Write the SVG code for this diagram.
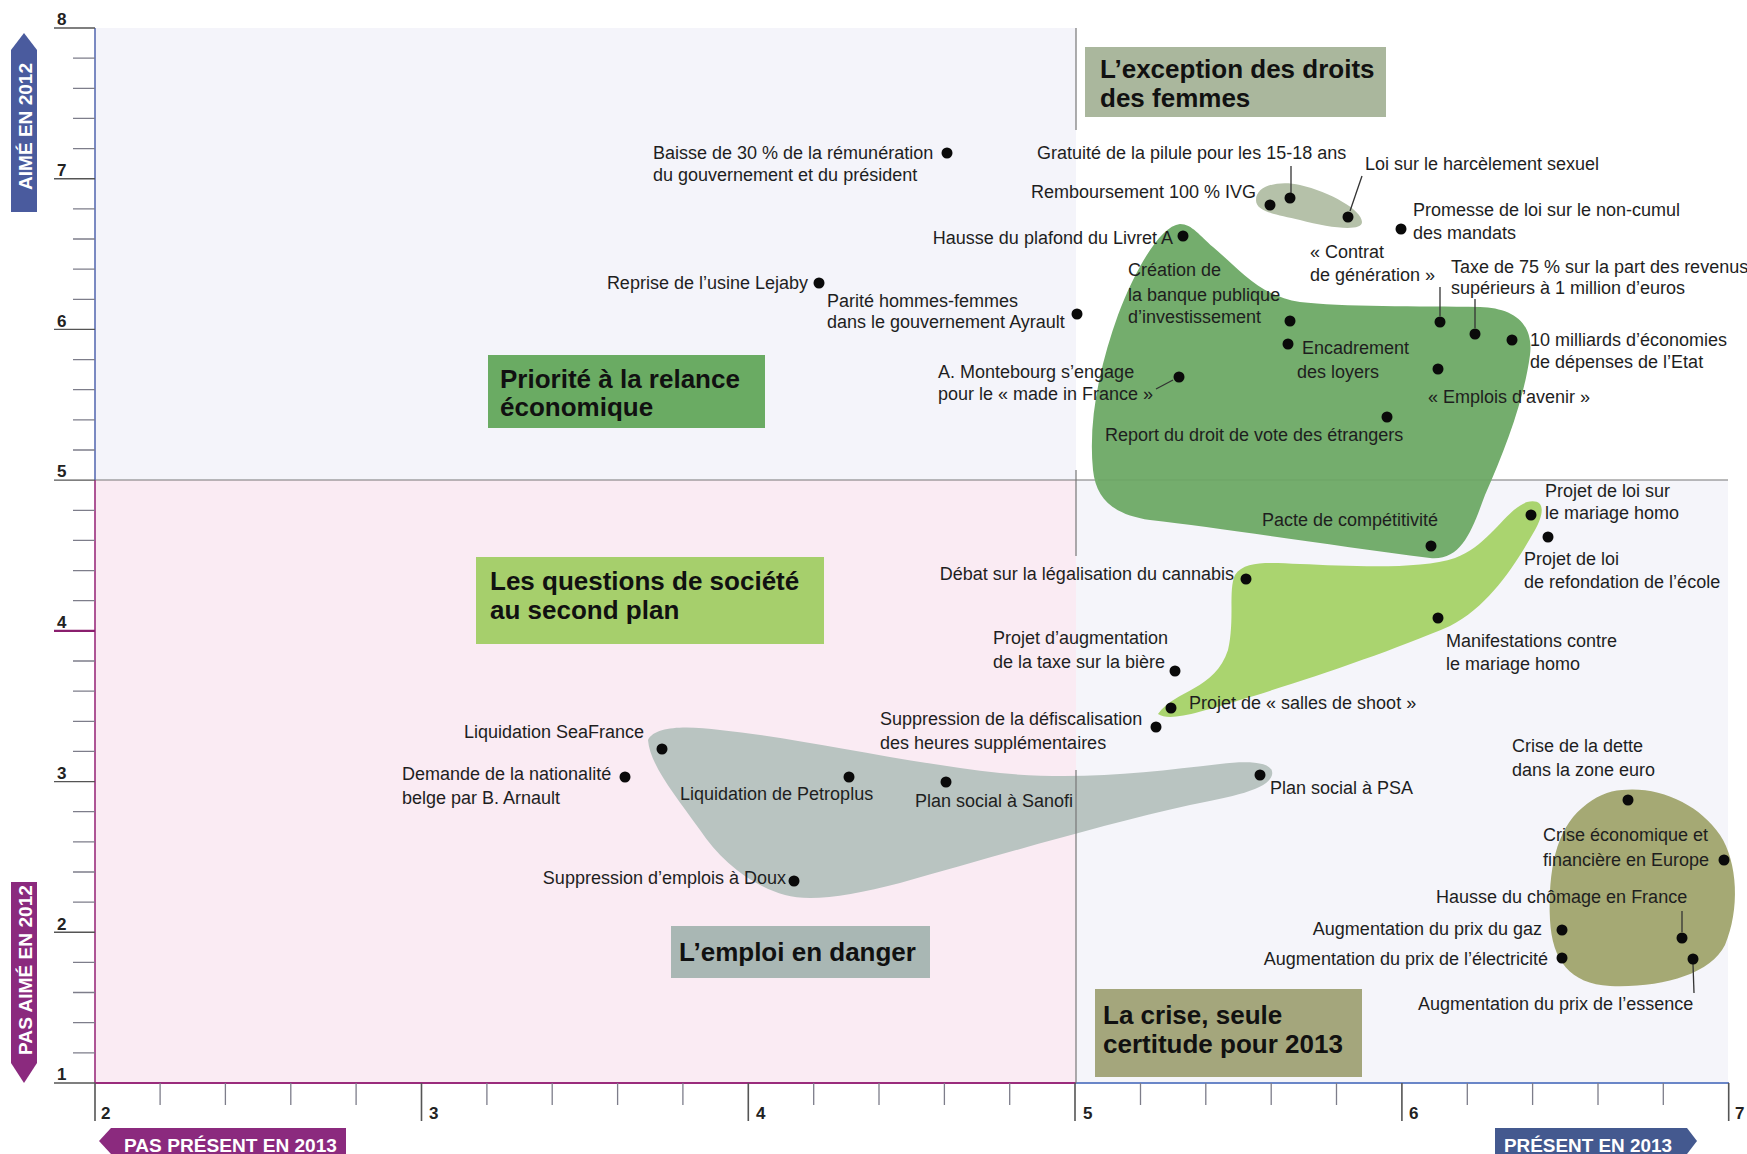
<svg xmlns="http://www.w3.org/2000/svg" width="1747" height="1154" viewBox="0 0 1747 1154">
<defs>
<style>
.lb{font-family:"Liberation Sans",Arial,sans-serif;font-size:18px;fill:#1e1e1e}
.e{text-anchor:end}
.tt{font-family:"Liberation Sans",Arial,sans-serif;font-size:26px;font-weight:bold;fill:#111}
.ax{font-family:"Liberation Sans",Arial,sans-serif;font-size:17px;font-weight:bold;fill:#222}
.bn{font-family:"Liberation Sans",Arial,sans-serif;font-size:19px;font-weight:bold;fill:#fff}
.dot{fill:#0a0a0a}
.ld{stroke:#333;stroke-width:1.3;fill:none}
</style>
</defs>
<rect width="1747" height="1154" fill="#ffffff"/>
<g id="background">
<rect x="95" y="28" width="981" height="452" fill="#f4f4fa"/>
<rect x="95" y="480" width="981" height="603" fill="#faebf3"/>
<rect x="1076" y="480" width="652" height="603" fill="#f5f5fa"/>
<line x1="95" y1="480" x2="1728" y2="480" stroke="#777" stroke-width="1.2"/>
<path d="M1076 28V130M1076 470V556" stroke="#777" stroke-width="1.2"/>
</g>
<g id="axes">
<line x1="95" y1="28" x2="95" y2="480" stroke="#5a6db3" stroke-width="1.6"/>
<line x1="95" y1="480" x2="95" y2="1083" stroke="#9a2c7c" stroke-width="1.6"/>
<line x1="95" y1="1083" x2="1076" y2="1083" stroke="#9a2c7c" stroke-width="2"/>
<line x1="1076" y1="1083" x2="1729" y2="1083" stroke="#6a86c8" stroke-width="2"/>
<path stroke="#7d7d8a" stroke-width="1.3" d="M73 58.1H95M73 88.3H95M73 118.4H95M73 148.6H95M73 208.9H95M73 239H95M73 269.1H95M73 299.3H95M73 359.6H95M73 389.7H95M73 419.8H95M73 450H95M73 510.3H95M73 540.4H95M73 570.6H95M73 600.7H95M73 661H95M73 691.1H95M73 721.3H95M73 751.4H95M73 811.7H95M73 841.8H95M73 872H95M73 902.1H95M73 962.4H95M73 992.5H95M73 1022.7H95M73 1052.8H95"/>
<path stroke="#555" stroke-width="1.4" d="M54 28H95M54 178.7H95M54 329.4H95M54 480.1H95M54 781.6H95M54 932.3H95M54 1083H95"/>
<path stroke="#8a1f6e" stroke-width="2.2" d="M54 630.8H95"/>
<path stroke="#7d7d8a" stroke-width="1.3" d="M160.1 1083V1105M225.4 1083V1105M290.8 1083V1105M356.1 1083V1105M486.9 1083V1105M552.2 1083V1105M617.6 1083V1105M682.9 1083V1105M813.7 1083V1105M879 1083V1105M944.4 1083V1105M1009.7 1083V1105M1140.5 1083V1105M1205.8 1083V1105M1271.2 1083V1105M1336.5 1083V1105M1467.3 1083V1105M1532.6 1083V1105M1598 1083V1105M1663.3 1083V1105"/>
<path stroke="#555" stroke-width="1.6" d="M95 1083V1121M421.5 1083V1121M748.3 1083V1121M1075 1083V1121M1401.9 1083V1121M1728.7 1083V1121"/>
<text class="ax" x="57" y="25">8</text>
<text class="ax" x="57" y="176">7</text>
<text class="ax" x="57" y="327">6</text>
<text class="ax" x="57" y="477">5</text>
<text class="ax" x="57" y="628">4</text>
<text class="ax" x="57" y="779">3</text>
<text class="ax" x="57" y="930">2</text>
<text class="ax" x="57" y="1080">1</text>
<text class="ax" x="101" y="1119">2</text>
<text class="ax" x="429" y="1119">3</text>
<text class="ax" x="756" y="1119">4</text>
<text class="ax" x="1083" y="1119">5</text>
<text class="ax" x="1409" y="1119">6</text>
<text class="ax" x="1735" y="1119">7</text>
</g>
<g id="banners">
<path d="M11 50L24 33L37 50V212H11Z" fill="#4a5b9e"/>
<text class="bn" transform="translate(31.5 190) rotate(-90)" textLength="127" lengthAdjust="spacingAndGlyphs">AIMÉ EN 2012</text>
<path d="M11 882H37V1063L24 1083L11 1063Z" fill="#8b2a7e"/>
<text class="bn" transform="translate(31.5 1055) rotate(-90)" textLength="170" lengthAdjust="spacingAndGlyphs">PAS AIMÉ EN 2012</text>
<path d="M99 1141L111 1128H346V1154H111Z" fill="#8b2a7e"/>
<text class="bn" x="124" y="1152" textLength="213" lengthAdjust="spacingAndGlyphs">PAS PRÉSENT EN 2013</text>
<path d="M1495 1128H1687L1697 1141L1687 1154H1495Z" fill="#44598f"/>
<text class="bn" x="1504" y="1152" textLength="168" lengthAdjust="spacingAndGlyphs">PRÉSENT EN 2013</text>
</g>
<g id="blobs">
<path id="blob-relance" fill="#74ad6d" d="M1180,224 C1160,226 1135,270 1118,315 C1100,365 1088,420 1093,470 C1096,500 1115,515 1150,520 C1220,528 1330,545 1430,558 C1462,561 1472,530 1485,495 C1505,450 1524,400 1530,355 C1534,322 1512,308 1480,307 C1420,306 1340,307 1300,302 C1260,296 1240,270 1213,247 C1200,236 1192,224 1180,224 Z"/>
<path d="M1098 480H1490" stroke="#6a9f64" stroke-width="1" opacity="0.6"/>
<path id="blob-femmes" fill="#b5c1a9" d="M1256,200 C1256,185 1280,180 1300,185 C1330,192 1362,210 1362,222 C1362,232 1330,228 1300,220 C1275,214 1256,212 1256,200 Z"/>
<path id="blob-societe" fill="#aad46f" d="M1158,714 C1175,690 1215,690 1228,650 C1235,620 1228,590 1235,575 C1245,560 1270,563 1300,564 C1350,566 1420,570 1455,558 C1490,545 1505,510 1527,502 C1545,498 1545,512 1535,530 C1515,565 1490,605 1450,626 C1390,652 1300,682 1240,700 C1200,712 1170,722 1158,714 Z"/>
<path id="blob-emploi" fill="#b9c4c1" d="M648,740 C655,725 690,726 720,730 C800,738 900,762 1000,773 C1080,781 1150,772 1220,764 C1250,760 1275,762 1272,775 C1268,790 1230,797 1190,805 C1100,825 1000,855 900,883 C850,896 810,902 785,895 C750,885 720,860 700,830 C675,795 650,765 648,740 Z"/>
<path id="blob-crise" fill="#a5a974" d="M1622,790 C1660,786 1700,805 1720,835 C1738,862 1740,910 1725,945 C1710,975 1660,988 1610,986 C1570,984 1552,960 1550,920 C1548,870 1556,830 1582,808 C1596,796 1608,791 1622,790 Z"/>
<path d="M1076 770V1083" stroke="#777" stroke-width="1.2"/>
</g>
<g id="titles">
<g id="title-femmes"><rect x="1085" y="47" width="301" height="70" fill="#aab79d"/><text class="tt" x="1100" y="78">L’exception des droits</text><text class="tt" x="1100" y="107">des femmes</text></g>
<g id="title-relance"><rect x="488" y="355" width="277" height="73" fill="#6aab63"/><text class="tt" x="500" y="388">Priorité à la relance</text><text class="tt" x="500" y="416">économique</text></g>
<g id="title-societe"><rect x="476" y="557" width="348" height="87" fill="#a6cf6c"/><text class="tt" x="490" y="590">Les questions de société</text><text class="tt" x="490" y="619">au second plan</text></g>
<g id="title-emploi"><rect x="671" y="926" width="259" height="52" fill="#a9b7b4"/><text class="tt" x="679" y="961">L’emploi en danger</text></g>
<g id="title-crise"><rect x="1095" y="989" width="267" height="88" fill="#a4a67c"/><text class="tt" x="1103" y="1024">La crise, seule</text><text class="tt" x="1103" y="1053">certitude pour 2013</text></g>
</g>
<g id="connectors">
<line class="ld" x1="1156" y1="389" x2="1173" y2="380"/>
<line class="ld" x1="1291" y1="166" x2="1291" y2="193"/>
<line class="ld" x1="1362" y1="176" x2="1350" y2="211"/>
<line class="ld" x1="1440" y1="287" x2="1440" y2="316"/>
<line class="ld" x1="1475" y1="299" x2="1475" y2="328"/>
<line class="ld" x1="1682" y1="911" x2="1682" y2="932"/>
<line class="ld" x1="1693" y1="964" x2="1694" y2="993"/>
</g>
<g id="points">
<g id="p-baisse"><circle class="dot" cx="947" cy="153" r="5.5"/><text class="lb" x="653" y="159">Baisse de 30 % de la rémunération</text><text class="lb" x="653" y="181">du gouvernement et du président</text></g>
<g id="p-lejaby"><circle class="dot" cx="819" cy="283" r="5.5"/><text class="lb e" x="808" y="289">Reprise de l’usine Lejaby</text></g>
<g id="p-parite"><circle class="dot" cx="1077" cy="314" r="5.5"/><text class="lb" x="827" y="307">Parité hommes-femmes</text><text class="lb" x="827" y="328">dans le gouvernement Ayrault</text></g>
<g id="p-livret"><circle class="dot" cx="1183" cy="236" r="5.5"/><text class="lb e" x="1173" y="244">Hausse du plafond du Livret A</text></g>
<g id="p-montebourg"><circle class="dot" cx="1179" cy="377" r="5.5"/><text class="lb" x="938" y="378">A. Montebourg s’engage</text><text class="lb" x="938" y="400">pour le « made in France »</text></g>
<g id="p-pilule"><circle class="dot" cx="1290" cy="198" r="5.5"/><text class="lb" x="1037" y="159">Gratuité de la pilule pour les 15-18 ans</text></g>
<g id="p-ivg"><circle class="dot" cx="1270" cy="205" r="5.5"/><text class="lb e" x="1256" y="198">Remboursement 100 % IVG</text></g>
<g id="p-harcelement"><circle class="dot" cx="1348" cy="217" r="5.5"/><text class="lb" x="1365" y="170">Loi sur le harcèlement sexuel</text></g>
<g id="p-cumul"><circle class="dot" cx="1401" cy="229" r="5.5"/><text class="lb" x="1413" y="216">Promesse de loi sur le non-cumul</text><text class="lb" x="1413" y="239">des mandats</text></g>
<g id="p-contrat"><circle class="dot" cx="1440" cy="322" r="5.5"/><text class="lb" x="1310" y="258">« Contrat</text><text class="lb" x="1310" y="281">de génération »</text></g>
<g id="p-taxe75"><circle class="dot" cx="1475" cy="334" r="5.5"/><text class="lb" x="1451" y="273">Taxe de 75 % sur la part des revenus</text><text class="lb" x="1451" y="294">supérieurs à 1 million d’euros</text></g>
<g id="p-bpi"><circle class="dot" cx="1290" cy="321" r="5.5"/><text class="lb" x="1128" y="276">Création de</text><text class="lb" x="1128" y="301">la  banque publique</text><text class="lb" x="1128" y="323">d’investissement</text></g>
<g id="p-loyers"><circle class="dot" cx="1288" cy="344" r="5.5"/><text class="lb" x="1302" y="354">Encadrement</text><text class="lb" x="1297" y="378">des loyers</text></g>
<g id="p-milliards"><circle class="dot" cx="1512" cy="340" r="5.5"/><text class="lb" x="1530" y="346">10 milliards d’économies</text><text class="lb" x="1530" y="368">de dépenses de l’Etat</text></g>
<g id="p-emplois"><circle class="dot" cx="1438" cy="369" r="5.5"/><text class="lb" x="1428" y="403">« Emplois d’avenir »</text></g>
<g id="p-vote"><circle class="dot" cx="1387" cy="417" r="5.5"/><text class="lb" x="1105" y="441">Report du droit de vote des étrangers</text></g>
<g id="p-pacte"><circle class="dot" cx="1431" cy="546" r="5.5"/><text class="lb" x="1262" y="526">Pacte de compétitivité</text></g>
<g id="p-mariage"><circle class="dot" cx="1531" cy="515" r="5.5"/><text class="lb" x="1545" y="497">Projet de loi sur</text><text class="lb" x="1545" y="519">le mariage homo</text></g>
<g id="p-ecole"><circle class="dot" cx="1548" cy="537" r="5.5"/><text class="lb" x="1524" y="565">Projet de loi</text><text class="lb" x="1524" y="588">de refondation de l’école</text></g>
<g id="p-cannabis"><circle class="dot" cx="1246" cy="579" r="5.5"/><text class="lb e" x="1234" y="580">Débat sur la légalisation du cannabis</text></g>
<g id="p-manif"><circle class="dot" cx="1438" cy="618" r="5.5"/><text class="lb" x="1446" y="647">Manifestations contre</text><text class="lb" x="1446" y="670">le mariage homo</text></g>
<g id="p-biere"><circle class="dot" cx="1175" cy="671" r="5.5"/><text class="lb" x="993" y="644">Projet d’augmentation</text><text class="lb" x="993" y="668">de la taxe sur la bière</text></g>
<g id="p-shoot"><circle class="dot" cx="1171" cy="708" r="5.5"/><text class="lb" x="1189" y="709">Projet de « salles de shoot »</text></g>
<g id="p-defisc"><circle class="dot" cx="1156" cy="727" r="5.5"/><text class="lb" x="880" y="725">Suppression de la défiscalisation</text><text class="lb" x="880" y="749">des heures supplémentaires</text></g>
<g id="p-seafrance"><circle class="dot" cx="662" cy="749" r="5.5"/><text class="lb e" x="644" y="738">Liquidation SeaFrance</text></g>
<g id="p-arnault"><circle class="dot" cx="625" cy="777" r="5.5"/><text class="lb" x="402" y="780">Demande de la nationalité</text><text class="lb" x="402" y="804">belge par B. Arnault</text></g>
<g id="p-petroplus"><circle class="dot" cx="849" cy="777" r="5.5"/><text class="lb" x="680" y="800">Liquidation de Petroplus</text></g>
<g id="p-sanofi"><circle class="dot" cx="946" cy="782" r="5.5"/><text class="lb" x="915" y="807">Plan social à Sanofi</text></g>
<g id="p-psa"><circle class="dot" cx="1260" cy="775" r="5.5"/><text class="lb" x="1270" y="794">Plan social à PSA</text></g>
<g id="p-doux"><circle class="dot" cx="794" cy="881" r="5.5"/><text class="lb e" x="786" y="884">Suppression d’emplois à Doux</text></g>
<g id="p-dette"><circle class="dot" cx="1628" cy="800" r="5.5"/><text class="lb" x="1512" y="752">Crise de la dette</text><text class="lb" x="1512" y="776">dans la zone euro</text></g>
<g id="p-criseeco"><circle class="dot" cx="1724" cy="860" r="5.5"/><text class="lb" x="1543" y="841">Crise économique et</text><text class="lb" x="1543" y="866">financière en Europe</text></g>
<g id="p-chomage"><circle class="dot" cx="1682" cy="938" r="5.5"/><text class="lb" x="1436" y="903">Hausse du chômage en France</text></g>
<g id="p-gaz"><circle class="dot" cx="1562" cy="930" r="5.5"/><text class="lb e" x="1542" y="935">Augmentation du prix du gaz</text></g>
<g id="p-electricite"><circle class="dot" cx="1562" cy="958" r="5.5"/><text class="lb e" x="1548" y="965">Augmentation du prix de l’électricité</text></g>
<g id="p-essence"><circle class="dot" cx="1693" cy="959" r="5.5"/><text class="lb" x="1418" y="1010">Augmentation du prix de l’essence</text></g>
</g>
</svg>
